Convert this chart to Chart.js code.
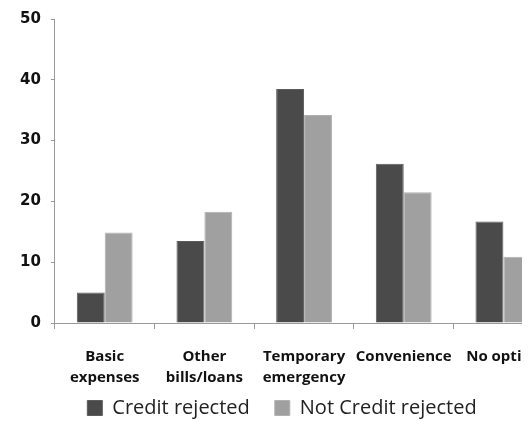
<!DOCTYPE html>
<html>
<head>
<meta charset="utf-8">
<script src="https://cdn.jsdelivr.net/npm/chart.js"></script>
<style>
  html, body { margin: 0; padding: 0; background: #fff; overflow: hidden; }
  #wrap { width: 522px; height: 421px; overflow: hidden; }
  #box { width: 558px; height: 428px; }
</style>
</head>
<body>
<div id="wrap"><div id="box"><canvas id="bar-chart"></canvas></div></div>
<script>
    "use strict";

    // Data
    var categories = [["Basic", "expenses"], ["Other", "bills/loans"], ["Temporary", "emergency"], "Convenience", "No option"];
    var creditRejected = [5, 13.5, 38.5, 26.2, 16.7];
    var notCreditRejected = [14.9, 18.3, 34.2, 21.5, 10.9];
    var yTicks = [0, 10, 20, 30, 40, 50];

    // let the category labels hang down toward the legend without being clipped
    var labelRoom = {
        id: "labelRoom",
        afterLayout: function (chart) {
            chart.scales.x.bottom = chart.height;
        }
    };

    // Bar Chart
    var ctx = document.getElementById("bar-chart").getContext("2d");
    var myChart = new Chart(ctx, {
        type: "bar",
        plugins: [labelRoom],
        data: {
            labels: categories,
            datasets: [{
                label: "Credit rejected",
                backgroundColor: "#4a4a4a",
                borderColor: "#5c5c5c",
                borderWidth: 1,
                data: creditRejected
            },
            {
                label: "Not Credit rejected",
                backgroundColor: "#a0a0a0",
                borderColor: "#b0b0b0",
                borderWidth: 1,
                data: notCreditRejected
            }]
        },
        options: {
            responsive: true,
            maintainAspectRatio: false,
            animation: false,
            layout: { padding: { left: 10, right: 4, top: 6, bottom: 0 } },
            datasets: { bar: { categoryPercentage: 0.56, barPercentage: 1 } },
            plugins: {
                tooltip: { enabled: false },
                legend: {
                    position: "bottom",
                    labels: {
                        color: "#222",
                        boxWidth: 15,
                        boxHeight: 15,
                        padding: 25,
                        font: { family: "'Open Sans'", size: 20 }
                    }
                }
            },
            scales: {
                x: {
                    afterFit: function (scale) {
                        scale.height = 50;
                    },
                    grid: { offset: true, drawOnChartArea: false, tickLength: 6, color: "#9a9a9a" },
                    border: { color: "#9a9a9a", width: 1 },
                    ticks: {
                        color: "#111",
                        maxRotation: 0,
                        autoSkip: false,
                        padding: 17,
                        font: { family: "'Open Sans'", size: 15, weight: "bold", lineHeight: 1.4 }
                    }
                },
                y: {
                    min: 0,
                    max: 50,
                    afterBuildTicks: function (axis) {
                        axis.ticks = yTicks.map(function (v) { return { value: v }; });
                    },
                    grid: { drawOnChartArea: false, tickLength: 4, color: "#9a9a9a" },
                    border: { color: "#9a9a9a", width: 1 },
                    ticks: {
                        color: "#111",
                        padding: 10,
                        font: { family: "'DejaVu Sans'", size: 15, weight: "bold" }
                    }
                }
            }
        }
    });
</script>
</body>
</html>
